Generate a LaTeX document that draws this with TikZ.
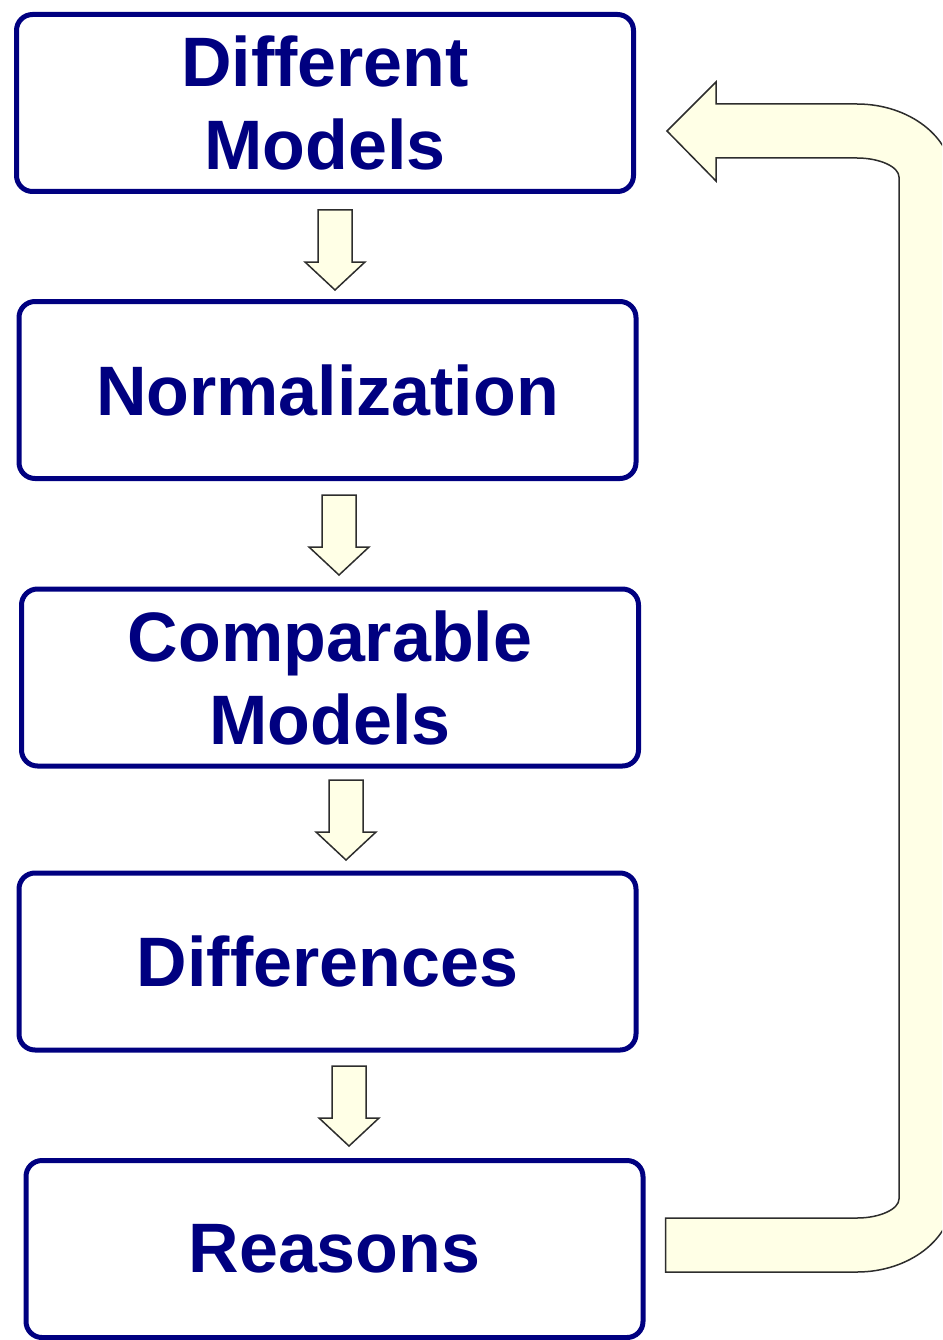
\documentclass[tikz,border=0pt]{standalone}
\usepackage{fontspec}
\setmainfont{Liberation Sans}
\usepackage{tikz}
\usetikzlibrary{calc}

\definecolor{boxblue}{RGB}{0,0,128}
\definecolor{arrowfill}{RGB}{255,255,230}
\definecolor{arrowline}{RGB}{45,45,45}

\newcommand{\fatdown}[1]{\draw[fatarrow] (#1) ++(-17,0) -- ++(34,0) -- ++(0,52) -- ++(13,0) -- ++(-30,28) -- ++(-30,-28) -- ++(13,0) -- cycle;}

\begin{document}
\begin{tikzpicture}[x=1pt, y=-1pt,
	every node/.style={rectangle, rounded corners=16pt, draw=boxblue, line width=5pt, text=boxblue,
		font=\fontsize{70}{83}\selectfont\bfseries, align=center, minimum width=617pt, minimum height=177pt, inner sep=0pt},
	fatarrow/.style={draw=arrowline, fill=arrowfill, line width=1.5pt, line join=miter}]
			\useasboundingbox (0,0) rectangle (942,1340);
			\clip (0,0) rectangle (942,1340);
			
			\node (m1) at (325,103){Different\\Models};
			\node (m2) at (327.5,390){Normalization};
			\node (m3) at (330,677.5){Comparable\\Models};
			\node (m4) at (327.5,961.5){Differences};
			\node (m5) at (334.5,1249){Reasons};
			
			\coordinate (d1) at (335,210);
			\coordinate (d2) at (339,495);
			\coordinate (d3) at (346,780);
			\coordinate (d4) at (349,1066);
			\fatdown{d1}
			\fatdown{d2}
			\fatdown{d3}
			\fatdown{d4}
			
			% way back from the reasons to the models
			\coordinate (back) at ($(m5.east)+(20,-31)$);
			\draw[fatarrow] (back) -- (857,1218)
				.. controls (880,1218) and (899,1209) .. (899,1199)
				-- (899,177)
				.. controls (899,167) and (880,158) .. (857,158)
				-- (716,158) -- (716,181) -- (667,131) -- (716,82) -- (716,104)
				-- (857,104)
				.. controls (909,104) and (952,137) .. (952,177)
				-- (952,1199)
				.. controls (952,1239) and (909,1272) .. (857,1272)
				-- (back |- 0,1272) -- cycle;
			\end{tikzpicture}
\end{document}
